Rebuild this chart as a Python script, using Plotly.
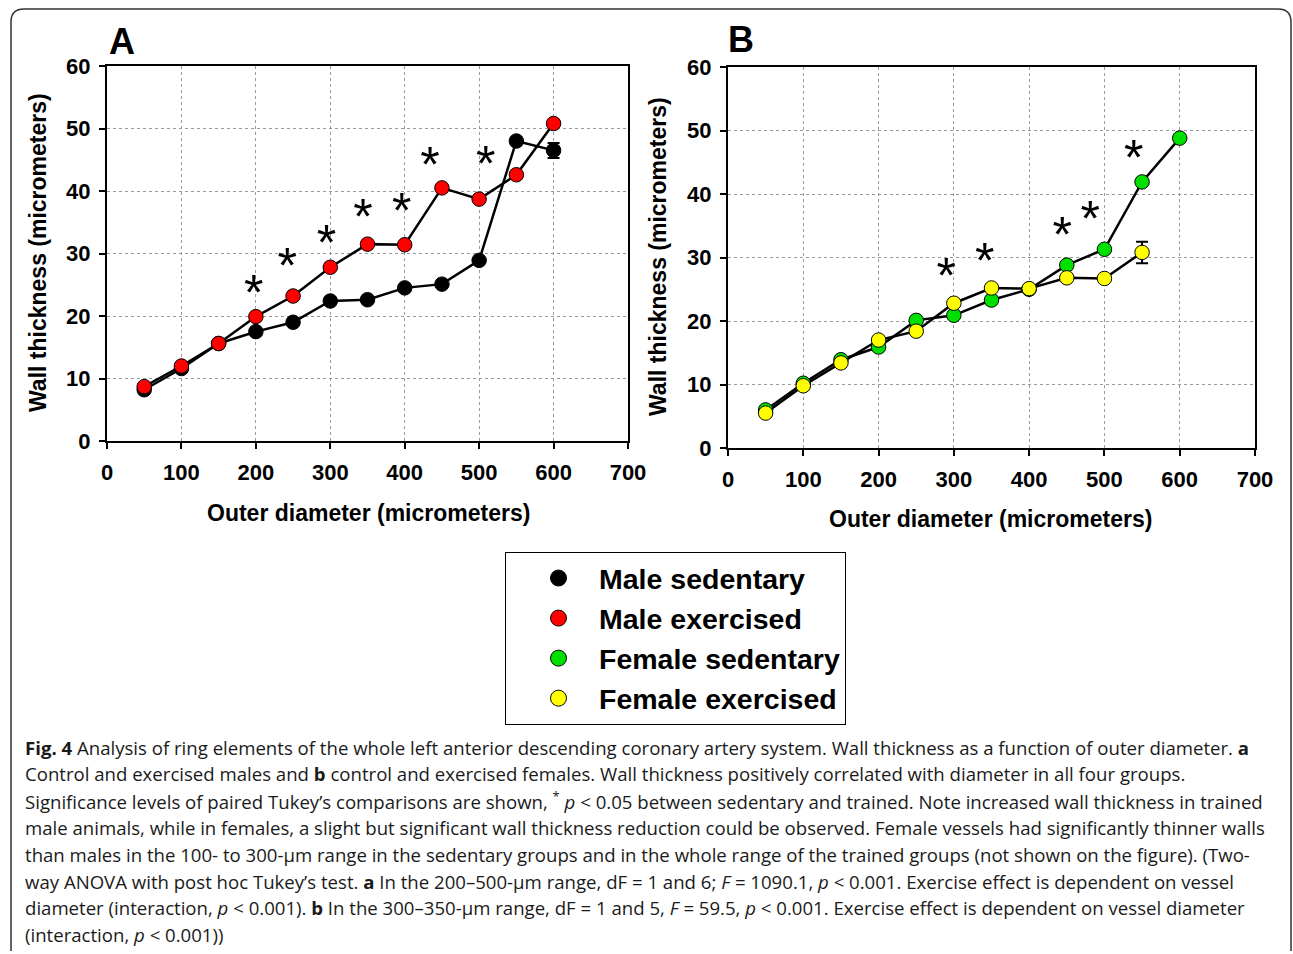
import plotly.graph_objects as go

W, H = 1293, 954

diam = [50, 100, 150, 200, 250, 300, 350, 400, 450, 500, 550, 600]
male_sed = [8.2, 11.6, 15.6, 17.5, 19.0, 22.4, 22.6, 24.5, 25.1, 28.9, 48.0, 46.5]
male_sed_err = [0, 0, 0, 0, 0, 0, 0, 0, 0, 0, 0, 1.2]
male_ex = [8.7, 12.0, 15.6, 19.9, 23.2, 27.8, 31.5, 31.4, 40.5, 38.7, 42.6, 50.8]
fem_sed = [6.0, 10.2, 13.9, 15.9, 20.1, 20.9, 23.3, 25.0, 28.8, 31.3, 41.9, 48.8]
diam_fex = [50, 100, 150, 200, 250, 300, 350, 400, 450, 500, 550]
fem_ex = [5.5, 9.8, 13.4, 17.0, 18.4, 22.8, 25.2, 25.1, 26.8, 26.7, 30.8]
fem_ex_err = [0, 0, 0, 0, 0, 0, 0, 0, 0, 0, 1.7]

# significance marker positions (anchor of the "*" text)
star_a_x = [197, 242, 295, 344, 396, 434, 509]
star_a_y = [22.9, 27.3, 30.9, 35.1, 36.1, 43.4, 43.6]
star_b_x = [290, 341, 444, 481, 539]
star_b_y = [26.4, 28.8, 32.9, 35.3, 45.0]

x_ticks = [0, 100, 200, 300, 400, 500, 600, 700]
y_ticks = [0, 10, 20, 30, 40, 50, 60]

legend_names = ["Male sedentary", "Male exercised", "Female sedentary", "Female exercised"]
legend_colors = ["#000000", "#ff0000", "#00e000", "#ffff00"]

caption_lines = [
    "<b>Fig. 4</b> Analysis of ring elements of the whole left anterior descending coronary artery system. Wall thickness as a function of outer diameter. <b>a</b>",
    "Control and exercised males and <b>b</b> control and exercised females. Wall thickness positively correlated with diameter in all four groups.",
    "Significance levels of paired Tukey\u2019s comparisons are shown, <sup>*</sup> <i>p</i> &lt; 0.05 between sedentary and trained. Note increased wall thickness in trained",
    "male animals, while in females, a slight but significant wall thickness reduction could be observed. Female vessels had significantly thinner walls",
    "than males in the 100- to 300-\u00b5m range in the sedentary groups and in the whole range of the trained groups (not shown on the figure). (Two-",
    "way ANOVA with post hoc Tukey\u2019s test. <b>a</b> In the 200\u2013500-\u00b5m range, dF = 1 and 6; <i>F</i> = 1090.1, <i>p</i> &lt; 0.001. Exercise effect is dependent on vessel",
    "diameter (interaction, <i>p</i> &lt; 0.001). <b>b</b> In the 300\u2013350-\u00b5m range, dF = 1 and 5, <i>F</i> = 59.5, <i>p</i> &lt; 0.001. Exercise effect is dependent on vessel diameter",
    "(interaction, <i>p</i> &lt; 0.001))",
]

AX_FONT = "Arial, Liberation Sans, sans-serif"

fig = go.Figure()

def add_series(x, y, color, xa, ya, err=None):
    fig.add_trace(go.Scatter(x=x, y=y, mode="lines", line=dict(color="black", width=2.5),
                             xaxis=xa, yaxis=ya, showlegend=False, hoverinfo="skip"))
    return dict(x=x, y=y, color=color, xa=xa, ya=ya, err=err)

series = [
    add_series(diam, male_sed, "#000000", "x", "y", male_sed_err),
    add_series(diam, male_ex, "#ff0000", "x", "y"),
    add_series(diam, fem_sed, "#00e000", "x2", "y2"),
    add_series(diam_fex, fem_ex, "#ffff00", "x2", "y2", fem_ex_err),
]
for s in series:
    kw = {}
    if s["err"] is not None:
        kw["error_y"] = dict(type="data", array=s["err"], visible=True, color="black",
                             thickness=2, width=6)
    fig.add_trace(go.Scatter(x=s["x"], y=s["y"], mode="markers",
                             marker=dict(size=14.5, color=s["color"], line=dict(color="black", width=1)),
                             xaxis=s["xa"], yaxis=s["ya"], showlegend=False, **kw))

fig.add_trace(go.Scatter(x=star_a_x, y=star_a_y, mode="text", text=["*"] * len(star_a_x),
                         textfont=dict(size=50, color="black", family=AX_FONT),
                         textposition="middle center", xaxis="x", yaxis="y", showlegend=False))
fig.add_trace(go.Scatter(x=star_b_x, y=star_b_y, mode="text", text=["*"] * len(star_b_x),
                         textfont=dict(size=50, color="black", family=AX_FONT),
                         textposition="middle center", xaxis="x2", yaxis="y2", showlegend=False))

for name, col in zip(legend_names, legend_colors):
    fig.add_trace(go.Scatter(x=[None], y=[None], mode="markers", name="<b>" + name + "</b>",
                             marker=dict(size=18, color=col, line=dict(color="black", width=1)),
                             xaxis="x", yaxis="y", showlegend=True))

axis_common = dict(showline=True, linecolor="black", linewidth=2, mirror=True,
                   ticks="outside", ticklen=6, tickwidth=2, tickcolor="black",
                   showgrid=True, gridcolor="#9a9a9a", griddash="dot", gridwidth=1,
                   zeroline=False, automargin=False,
                   tickfont=dict(family=AX_FONT, size=22, color="black"))

def px_x(v):
    return v / W

def px_y(v):
    return 1 - v / H

fig.update_layout(
    width=W, height=H, margin=dict(l=0, r=0, t=0, b=0, autoexpand=False),
    paper_bgcolor="white", plot_bgcolor="white",
    xaxis=dict(domain=[px_x(107), px_x(628)], range=[0, 700], tickvals=x_ticks,
               ticktext=["<b>%d</b>" % v for v in x_ticks], anchor="y",
               ticklabelstandoff=5, **axis_common),
    yaxis=dict(domain=[px_y(441), px_y(66)], range=[0, 60], tickvals=y_ticks,
               ticktext=["<b>%d</b>" % v for v in y_ticks], anchor="x",
               ticklabelstandoff=4, **axis_common),
    xaxis2=dict(domain=[px_x(728), px_x(1255)], range=[0, 700], tickvals=x_ticks,
                ticktext=["<b>%d</b>" % v for v in x_ticks], anchor="y2",
                ticklabelstandoff=5, **axis_common),
    yaxis2=dict(domain=[px_y(448), px_y(67)], range=[0, 60], tickvals=y_ticks,
                ticktext=["<b>%d</b>" % v for v in y_ticks], anchor="x2",
                ticklabelstandoff=4, **axis_common),
    legend=dict(x=px_x(505), y=px_y(552), xanchor="left", yanchor="top",
                bordercolor="black", borderwidth=1, bgcolor="white",
                font=dict(family=AX_FONT, size=28.5, color="black"),
                itemwidth=71, indentation=12, tracegroupgap=0),
    showlegend=True,
)

annots = []
annots.append(dict(x=px_x(122), y=px_y(42), text="<b>A</b>", showarrow=False, xref="paper", yref="paper",
                   font=dict(family=AX_FONT, size=36, color="black"), xanchor="center", yanchor="middle"))
annots.append(dict(x=px_x(741), y=px_y(40), text="<b>B</b>", showarrow=False, xref="paper", yref="paper",
                   font=dict(family=AX_FONT, size=36, color="black"), xanchor="center", yanchor="middle"))
for xc, yc in [(368, 513), (991, 519)]:
    annots.append(dict(x=px_x(xc), y=px_y(yc), text="<b>Outer diameter (micrometers)</b>", showarrow=False,
                       xref="paper", yref="paper", font=dict(family=AX_FONT, size=23, color="black"),
                       xanchor="center", yanchor="middle"))
for xc, yc in [(38, 253), (658, 257)]:
    annots.append(dict(x=px_x(xc), y=px_y(yc), text="<b>Wall thickness (micrometers)</b>", showarrow=False,
                       xref="paper", yref="paper", textangle=-90,
                       font=dict(family=AX_FONT, size=23, color="black"),
                       xanchor="center", yanchor="middle"))
for i, line in enumerate(caption_lines):
    annots.append(dict(x=px_x(23), y=px_y(747 + i * 26.8), text=line, showarrow=False,
                       xref="paper", yref="paper", xanchor="left", yanchor="middle", align="left",
                       font=dict(family="Open Sans, Noto Sans, sans-serif", size=18.6, color="#1a1a1a")))
fig.update_layout(annotations=annots)

fig.add_shape(type="path", xref="paper", yref="paper",
              path="M %f,%f L %f,%f Q %f,%f %f,%f L %f,%f Q %f,%f %f,%f L %f,%f" % (
                  px_x(11), px_y(951), px_x(11), px_y(22), px_x(11), px_y(9), px_x(24), px_y(9),
                  px_x(1278), px_y(9), px_x(1291), px_y(9), px_x(1291), px_y(22),
                  px_x(1291), px_y(951)),
              line=dict(color="#333333", width=1.5))

fig.write_html("out.html")
